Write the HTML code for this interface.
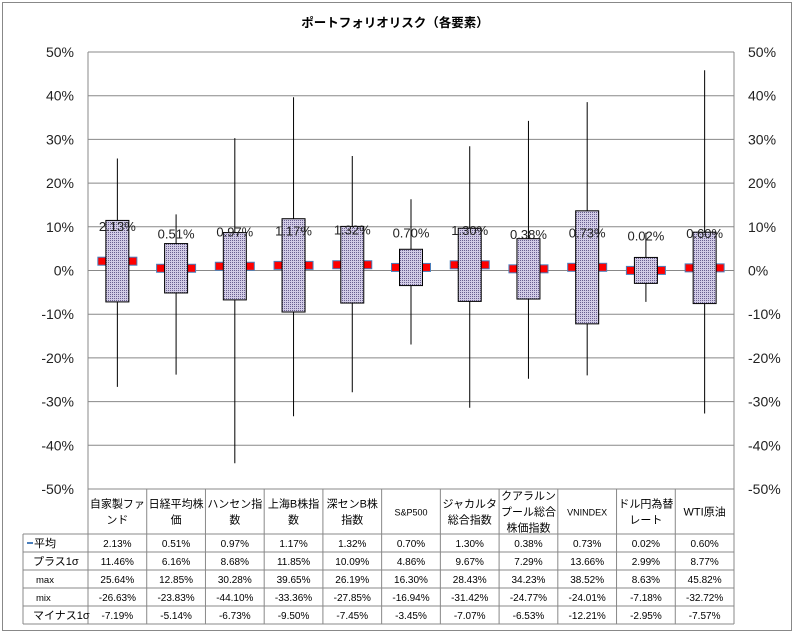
<!DOCTYPE html>
<html><head><meta charset="utf-8">
<style>
body{margin:0;background:#fff;}
svg{display:block;font-family:"Liberation Sans","Noto Sans CJK JP",sans-serif;}
</style></head>
<body>
<svg id="c" width="794" height="633" xmlns="http://www.w3.org/2000/svg">
<defs>
<pattern id="dots" width="2" height="2" patternUnits="userSpaceOnUse">
<rect width="2" height="2" fill="#d2cce6"/>
<rect x="0" y="0" width="1" height="1" fill="#6a6090"/>
</pattern>
</defs>
<rect x="2.5" y="2.5" width="789" height="628" fill="#fff" stroke="#888"/>
<text x="395" y="27" text-anchor="middle" font-size="12.5" font-weight="bold">ポートフォリオリスク（各要素）</text>
<g id="grid"></g><g id="marks"></g><g id="tbl"></g>
</svg>
<script>
const categories=["自家製ファ|ンド","日経平均株|価","ハンセン指|数","上海B株指|数","深センB株|指数","S&P500","ジャカルタ|総合指数","クアラルン|プール総合|株価指数","VNINDEX","ドル円為替|レート","WTI原油"];
const meanVals=[2.13,0.51,0.97,1.17,1.32,0.70,1.30,0.38,0.73,0.02,0.60];
const plusVals=[11.46,6.16,8.68,11.85,10.09,4.86,9.67,7.29,13.66,2.99,8.77];
const maxVals=[25.64,12.85,30.28,39.65,26.19,16.30,28.43,34.23,38.52,8.63,45.82];
const minVals=[-26.63,-23.83,-44.10,-33.36,-27.85,-16.94,-31.42,-24.77,-24.01,-7.18,-32.72];
const minusVals=[-7.19,-5.14,-6.73,-9.50,-7.45,-3.45,-7.07,-6.53,-12.21,-2.95,-7.57];
const yTicks=[50,40,30,20,10,0,-10,-20,-30,-40,-50];
const rowLabels=["平均","プラス1σ","max","mix","マイナス1σ"];

const NS="http://www.w3.org/2000/svg";
const L=88,R=734,T=52,B=489;
const cw=(R-L)/categories.length;
const y=v=>T+(50-v)/100*(B-T);
const xc=i=>L+cw*(i+0.5);
function el(tag,attrs,parent,txt){const e=document.createElementNS(NS,tag);for(const k in attrs)e.setAttribute(k,attrs[k]);if(txt!=null)e.textContent=txt;parent.appendChild(e);return e;}
const grid=document.getElementById('grid'),marks=document.getElementById('marks'),tbl=document.getElementById('tbl');

yTicks.forEach(t=>{
  const g=el('line',{x1:L,x2:R,y1:y(t),y2:y(t),stroke:'#888','stroke-width':1},grid);
  
  
  const a=el('text',{x:74,y:y(t)+5,'text-anchor':'end','font-size':14,fill:'#222'},grid,t+'%');
  
  
  const b=el('text',{x:748,y:y(t)+5,'font-size':14,fill:'#222'},grid,t+'%');
  
  
});
el('line',{x1:L,x2:L,y1:T,y2:B,stroke:'#888'},grid);
el('line',{x1:R,x2:R,y1:T,y2:B,stroke:'#888'},grid);

categories.forEach((c,i)=>{
  const x=xc(i);
  const w=el('line',{x1:x,x2:x,y1:y(maxVals[i]),y2:y(minVals[i]),stroke:'#000','stroke-width':1},marks);
  
  
  const m=el('rect',{x:x-19.5,y:y(meanVals[i])-4,width:39,height:8,fill:'#f00',stroke:'#4a7ebb','stroke-width':1},marks);
  
  
  const bx=el('rect',{x:x-11.5,y:y(plusVals[i]),width:23,height:y(minusVals[i])-y(plusVals[i]),fill:'url(#dots)',stroke:'#000','stroke-width':1},marks);
  
  
  const lb=el('text',{x:x,y:y(meanVals[i])-30,'text-anchor':'middle','font-size':13,fill:'#222'},marks,meanVals[i].toFixed(2)+'%');
  
  
});

const rowY=[534,552,570,588,606,624];
const hdrTop=489;
for(let i=0;i<=categories.length;i++){el('line',{x1:L+cw*i,x2:L+cw*i,y1:hdrTop,y2:624,stroke:'#888'},tbl);}
el('line',{x1:23,x2:23,y1:534,y2:624,stroke:'#888'},tbl);
rowY.forEach(v=>el('line',{x1:23,x2:R,y1:v,y2:v,stroke:'#888'},tbl));
categories.forEach((c,i)=>{
  const parts=c.split('|');
  const n=parts.length;
  const t=el('text',{x:xc(i),'text-anchor':'middle','font-size':parts[0]==='S&P500'||parts[0]==='VNINDEX'?9:11,fill:'#000'},tbl);
  
  
  const y0=511.5-(n-1)*8+4;
  parts.forEach((p,k)=>el('tspan',{x:xc(i),y:y0+k*16},t,p));
});
const series=[meanVals,plusVals,maxVals,minVals,minusVals];
rowLabels.forEach((r,k)=>{
  const cy=(rowY[k]+rowY[k+1])/2+4;
  if(k===0) el('line',{x1:27,x2:33,y1:cy-4,y2:cy-4,stroke:'#4a7ebb','stroke-width':2},tbl);
  const lx=k===0?34:(k===2||k===3?36:33);
  const rl=el('text',{x:lx,y:cy,'font-size':k===2||k===3?9.5:11,fill:'#000'},tbl,r);
  
  
  series[k].forEach((v,i)=>{
    const ct=el('text',{x:xc(i),y:cy,'text-anchor':'middle','font-size':10,fill:'#000'},tbl,v.toFixed(2)+'%');
    
    
  });
});
</script>
</body></html>
